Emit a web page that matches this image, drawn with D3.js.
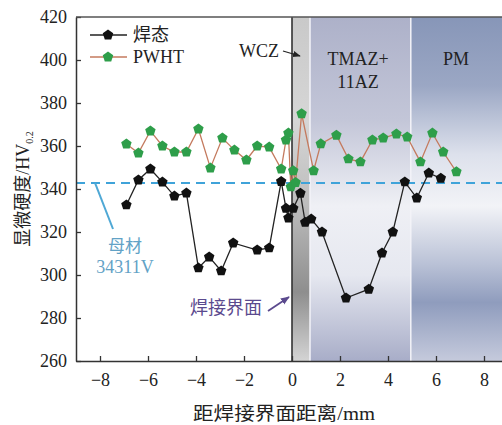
<!DOCTYPE html>
<html>
<head>
<meta charset="utf-8">
<script src="https://cdn.jsdelivr.net/npm/d3@7"></script>
<style>
body { margin: 0; background: #fff; }
text { font-family: "Liberation Serif", "Times New Roman", serif; }
.cjk { font-family: "Noto Sans CJK SC", sans-serif; }
</style>
</head>
<body>
<svg width="502" height="425"></svg>
<script>
// as-welded (焊态) hardness profile
var weldedX = [-6.9, -6.4, -5.9, -5.4, -4.9, -4.4, -3.9, -3.45, -2.95, -2.45, -1.45, -0.95,
               -0.45, -0.25, -0.15, 0.05, 0.35, 0.55, 0.8, 1.25, 2.25, 3.2, 3.75, 4.2, 4.7, 5.2, 5.7, 6.2]
var weldedHV = [332.6, 344.2, 349.3, 343.2, 336.7, 338.1, 303.3, 308.4, 301.9, 314.9, 311.6, 312.6,
                343.5, 331, 326.5, 331, 338, 324.5, 326, 320, 289.3, 293.4, 310.2, 320, 343.3, 335.8, 347.4, 345]

// post weld heat treated (PWHT)
var pwhtX = [-6.9, -6.4, -5.9, -5.4, -4.9, -4.4, -3.9, -3.4, -2.9, -2.4, -1.9, -1.45, -0.95,
             -0.45, -0.25, -0.15, -0.05, 0.05, 0.15, 0.4, 0.9, 1.2, 1.85, 2.35, 2.85, 3.35, 3.8,
             4.35, 4.8, 5.35, 5.85, 6.3, 6.85]
var pwhtHV = [360.9, 356.7, 367, 360, 357.2, 357.2, 367.9, 349.8, 363.7, 358.1, 353.5, 360, 359.5,
              349.3, 362.8, 366, 341, 348.5, 343, 375, 348.5, 361, 365, 354, 352.6, 362.8, 363.7,
              365.6, 364.2, 352.6, 366, 357.2, 348]

var baseMetalHV = 342.8
var xTicks = [-8, -6, -4, -2, 0, 2, 4, 6, 8]
var yTicks = [260, 280, 300, 320, 340, 360, 380, 400, 420]

// zone limits along x (mm)
var zones = [
  {name: "wcz", from: 0, to: 0.75},
  {name: "tmaz", from: 0.75, to: 4.95},
  {name: "pm", from: 4.95, to: 9}
]

var svg = d3.select("svg")
var plotLeft = 76, plotTop = 17, plotBottom = 361

var x = d3.scaleLinear().domain([-9, 9]).range([plotLeft, 508])
var y = d3.scaleLinear().domain([260, 420]).range([plotBottom, plotTop])

var defs = svg.append("defs")

function vgrad(id, stops) {
  var g = defs.append("linearGradient").attr("id", id)
    .attr("x1", 0).attr("y1", 0).attr("x2", 0).attr("y2", 1)
  stops.forEach(function(s) {
    g.append("stop").attr("offset", s[0]).attr("stop-color", s[1])
  })
}
vgrad("wcz", [[0, "#c9c9c9"], [0.3, "#d6d6d6"], [0.55, "#bcbcbc"], [0.8, "#8e8e8e"], [1, "#d4d4d4"]])
vgrad("tmaz", [[0, "#adb1c9"], [0.3, "#c3c6d8"], [0.55, "#eff0f5"], [0.75, "#e6e8f0"], [1, "#a8adc8"]])
vgrad("pm", [[0, "#8796b8"], [0.2, "#9ba7c4"], [0.4, "#dde1ec"], [0.55, "#f2f3f7"], [0.72, "#b9c1d6"], [0.83, "#8f9cbd"], [1, "#c5cadc"]])

defs.append("marker").attr("id", "arrowBlack")
  .attr("viewBox", "0 0 10 10").attr("refX", 9).attr("refY", 5)
  .attr("markerWidth", 6).attr("markerHeight", 6).attr("orient", "auto")
  .append("path").attr("d", "M0,1L10,5L0,9Z").attr("fill", "#222")
defs.append("marker").attr("id", "arrowPurple")
  .attr("viewBox", "0 0 10 10").attr("refX", 9).attr("refY", 5)
  .attr("markerWidth", 5).attr("markerHeight", 5).attr("orient", "auto")
  .append("path").attr("d", "M0,1L10,5L0,9Z").attr("fill", "#5b4a8e")

// background zones
svg.selectAll("rect.zone")
  .data(zones)
  .enter()
  .append("rect")
  .attr("class", "zone")
  .attr("x", function(d) { return x(d.from) })
  .attr("y", plotTop)
  .attr("width", function(d) { return x(d.to) - x(d.from) })
  .attr("height", plotBottom - plotTop)
  .attr("fill", function(d) { return "url(#" + d.name + ")" })

svg.selectAll("line.sep")
  .data([0.75, 4.95])
  .enter()
  .append("line")
  .attr("class", "sep")
  .attr("x1", function(d) { return x(d) }).attr("x2", function(d) { return x(d) })
  .attr("y1", plotTop).attr("y2", plotBottom)
  .attr("stroke", "#f3f3f8").attr("stroke-width", 1.5)

// weld interface line
svg.append("line")
  .attr("x1", x(0)).attr("x2", x(0)).attr("y1", plotTop).attr("y2", plotBottom)
  .attr("stroke", "#333").attr("stroke-width", 1.6)

// base metal reference
svg.append("line")
  .attr("x1", plotLeft).attr("x2", 502)
  .attr("y1", y(baseMetalHV)).attr("y2", y(baseMetalHV))
  .attr("stroke", "#3fa3d9").attr("stroke-width", 2)
  .attr("stroke-dasharray", "9,6")

svg.append("line")
  .attr("x1", 95).attr("y1", y(baseMetalHV))
  .attr("x2", 113).attr("y2", 229)
  .attr("stroke", "#4fa8d5").attr("stroke-width", 2)

function pentagon(r) {
  var pts = []
  for (var i = 0; i < 5; i++) {
    var a = -Math.PI / 2 + i * 2 * Math.PI / 5
    pts.push([(r * Math.cos(a)).toFixed(2), (r * Math.sin(a)).toFixed(2)])
  }
  return "M" + pts.join("L") + "Z"
}

function drawSeries(xs, vals, lineColor, dotColor) {
  var pts = xs.map(function(d, i) { return [d, vals[i]] })
  var line = d3.line().x(function(d) { return x(d[0]) }).y(function(d) { return y(d[1]) })
  svg.append("path")
    .datum(pts)
    .attr("d", line)
    .attr("fill", "none")
    .attr("stroke", lineColor)
    .attr("stroke-width", 1.3)
  svg.append("g")
    .selectAll("path")
    .data(pts)
    .enter()
    .append("path")
    .attr("d", pentagon(5.5))
    .attr("transform", function(d) { return "translate(" + x(d[0]) + "," + y(d[1]) + ")" })
    .attr("fill", dotColor)
}

drawSeries(pwhtX, pwhtHV, "#c47a5e", "#2e9e4a")
drawSeries(weldedX, weldedHV, "#222", "#111")

// axes
var yAxis = d3.axisLeft(y).tickValues(yTicks).tickSizeInner(-5).tickSizeOuter(0).tickPadding(9)
var xAxis = d3.axisBottom(x).tickValues(xTicks).tickSizeInner(-5).tickSizeOuter(0).tickPadding(12)

var gy = svg.append("g").attr("transform", "translate(" + plotLeft + ",0)").call(yAxis)
var gx = svg.append("g").attr("transform", "translate(0," + plotBottom + ")").call(xAxis)
gy.select(".domain").attr("stroke", "#333").attr("stroke-width", 1.5)
gx.select(".domain").attr("stroke", "#333").attr("stroke-width", 1.5)
gy.selectAll(".tick line").attr("stroke", "#333").attr("stroke-width", 1.3)
gx.selectAll(".tick line").attr("stroke", "#333").attr("stroke-width", 1.3)
gy.selectAll("text").style("font-family", "Liberation Serif").style("font-size", "18px").attr("fill", "#222")
gx.selectAll("text").style("font-family", "Liberation Serif").style("font-size", "18px").attr("fill", "#222")

// top frame line
svg.append("line")
  .attr("x1", plotLeft).attr("x2", 502).attr("y1", plotTop).attr("y2", plotTop)
  .attr("stroke", "#555").attr("stroke-width", 1.3)

// axis titles
var xt = svg.append("text")
  .attr("x", 284).attr("y", 420)
  .attr("text-anchor", "middle")
  .attr("textLength", 182)
  .attr("lengthAdjust", "spacingAndGlyphs")
  .attr("fill", "#222")
  .style("font-size", "18px")
xt.append("tspan").attr("class", "cjk").text("距焊接界面距离")
xt.append("tspan").text("/mm")

var yt = svg.append("text")
  .attr("transform", "translate(29,189) rotate(-90)")
  .attr("text-anchor", "middle")
  .attr("fill", "#222")
  .style("font-size", "18px")
yt.append("tspan").attr("class", "cjk").text("显微硬度")
yt.append("tspan").text("/HV")
yt.append("tspan").attr("dy", 4).style("font-size", "10px").text("0.2")

// legend
var legend = [
  {label: "焊态", cjk: true, line: "#222", dot: "#111", y: 35},
  {label: "PWHT", cjk: false, line: "#c47a5e", dot: "#2e9e4a", y: 57}
]
var lg = svg.append("g").selectAll("g").data(legend).enter().append("g")
lg.append("line")
  .attr("x1", 90).attr("x2", 127)
  .attr("y1", function(d) { return d.y }).attr("y2", function(d) { return d.y })
  .attr("stroke", function(d) { return d.line }).attr("stroke-width", 1.5)
lg.append("path")
  .attr("d", pentagon(5.5))
  .attr("transform", function(d) { return "translate(108," + d.y + ")" })
  .attr("fill", function(d) { return d.dot })
lg.append("text")
  .attr("class", function(d) { return d.cjk ? "cjk" : null })
  .attr("x", 133)
  .attr("y", function(d) { return d.y + 6 })
  .attr("fill", "#222")
  .style("font-size", "18px")
  .text(function(d) { return d.label })

// zone labels
svg.append("text").attr("x", 259).attr("y", 57).attr("text-anchor", "middle")
  .attr("fill", "#222").style("font-size", "18px").text("WCZ")
svg.append("line").attr("x1", 283).attr("y1", 51).attr("x2", 300).attr("y2", 56)
  .attr("stroke", "#222").attr("stroke-width", 1.3).attr("marker-end", "url(#arrowBlack)")
svg.append("text").attr("x", 358).attr("y", 65).attr("text-anchor", "middle")
  .attr("fill", "#222").style("font-size", "18px").text("TMAZ+")
svg.append("text").attr("x", 358).attr("y", 88).attr("text-anchor", "middle")
  .attr("fill", "#222").style("font-size", "18px").text("11AZ")
svg.append("text").attr("x", 456).attr("y", 65).attr("text-anchor", "middle")
  .attr("fill", "#222").style("font-size", "18px").text("PM")

// base metal label
svg.append("text").attr("class", "cjk").attr("x", 125).attr("y", 252).attr("text-anchor", "middle")
  .attr("fill", "#62a2c6").style("font-size", "17px").text("母材")
svg.append("text").attr("x", 125).attr("y", 273).attr("text-anchor", "middle")
  .attr("fill", "#62a2c6").style("font-size", "18px").text("34311V")

// interface label
svg.append("text").attr("class", "cjk").attr("x", 226).attr("y", 314).attr("text-anchor", "middle")
  .attr("fill", "#5b4a8e").style("font-size", "18px").text("焊接界面")
svg.append("line").attr("x1", 268).attr("y1", 311).attr("x2", 289).attr("y2", 297)
  .attr("stroke", "#5b4a8e").attr("stroke-width", 1.8).attr("marker-end", "url(#arrowPurple)")
</script>
</body>
</html>
